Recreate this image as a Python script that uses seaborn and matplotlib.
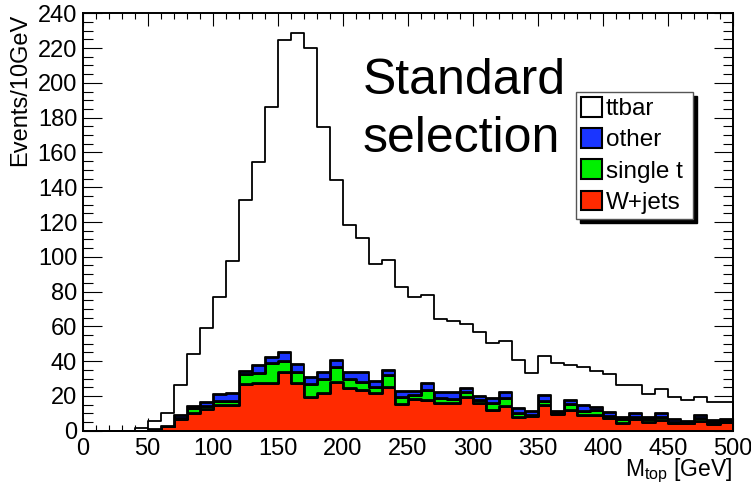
import numpy as np
import pandas as pd
import matplotlib
matplotlib.use("Agg")
import matplotlib.pyplot as plt
import seaborn as sns
from matplotlib.patches import Patch
from matplotlib.ticker import MultipleLocator

# ---- data: events per 10 GeV bin, bins 0-10, 10-20, ..., 490-500 ----
bin_low = list(range(0, 500, 10))

wjets = [0, 0, 0, 0, 0, 0.8, 2.7, 7.0, 10.4, 12.3,
         14.6, 14.6, 26.7, 27.2, 27.6, 33.9, 27.6, 19.6, 21.9, 28.2,
         24.4, 23.6, 21.5, 25.3, 15.2, 18.0, 17.7, 15.7, 15.7, 19.6,
         15.7, 11.9, 14.4, 8.0, 8.5, 14.8, 9.4, 11.9, 9.0, 9.0,
         7.1, 4.6, 6.5, 5.2, 6.2, 4.6, 4.2, 5.8, 3.8, 5.2]

single_t = [0, 0, 0, 0, 0, 0, 0.2, 0.5, 2.5, 1.9,
            2.5, 2.5, 5.7, 6.2, 11.1, 6.4, 6.2, 7.1, 7.7, 8.6,
            5.2, 4.6, 3.5, 6.7, 4.4, 2.5, 5.9, 2.9, 2.3, 2.8,
            2.0, 4.2, 4.2, 2.4, 0.5, 2.5, 0.8, 3.4, 2.5, 2.7,
            1.4, 2.0, 1.6, 1.3, 1.8, 0.4, 0.4, 1.3, 1.4, 1.0]

other = [0, 0, 0, 0, 0, 0, 0, 1.7, 1.3, 2.3,
         4.0, 4.8, 2.1, 4.6, 3.9, 4.8, 4.4, 4.4, 4.0, 3.9,
         4.3, 5.8, 3.6, 2.9, 3.2, 2.5, 3.8, 3.8, 4.4, 2.0,
         2.3, 2.5, 3.4, 2.5, 2.5, 3.2, 1.1, 2.2, 3.5, 1.9,
         2.4, 1.5, 2.3, 1.5, 2.0, 1.5, 1.2, 1.9, 1.0, 0.3]

ttbar = [0, 0, 0, 0, 1.5, 4.7, 7.5, 17.1, 29.7, 42.4,
         56.0, 75.7, 98.2, 116.3, 143.7, 179.6, 190.3, 188.8, 140.9, 103.5,
         84.4, 77.0, 67.3, 63.3, 60.0, 54.1, 50.8, 41.8, 40.9, 37.0,
         36.8, 32.0, 29.6, 27.8, 21.5, 22.6, 27.8, 20.5, 21.5, 20.7,
         21.7, 18.0, 15.6, 12.9, 14.2, 13.1, 11.9, 10.2, 10.5, 9.8]

components = ["ttbar", "other", "single t", "W+jets"]
series = {"ttbar": ttbar, "other": other, "single t": single_t, "W+jets": wjets}
colors = {"ttbar": "#ffffff", "other": "#1a35ff", "single t": "#00f000", "W+jets": "#ff2a00"}

x_ticks = list(range(0, 501, 50))
y_ticks = list(range(0, 241, 20))

# ---- long table ----
rows = []
for comp in components:
    for lo, v in zip(bin_low, series[comp]):
        rows.append({"mtop": lo + 5, "events": v, "comp": comp})
df = pd.DataFrame(rows)

sns.set_theme(style="ticks")
plt.rcParams["font.family"] = ["Liberation Sans", "DejaVu Sans"]
plt.rcParams["mathtext.default"] = "regular"
plt.rcParams["text.color"] = "black"
plt.rcParams["axes.labelcolor"] = "black"
plt.rcParams["xtick.color"] = "black"
plt.rcParams["ytick.color"] = "black"

fig = plt.figure(figsize=(7.51, 4.84), dpi=100)
ax = fig.add_axes([0.11012, 0.11012, 0.86551, 0.86240])

sns.histplot(data=df, x="mtop", weights="events", hue="comp", hue_order=components,
             binwidth=10, binrange=(0, 500), multiple="stack", element="step",
             fill=True, alpha=1, palette=colors, edgecolor="black", linewidth=2.0,
             legend=False, ax=ax)

# thinner outline for the ttbar layer
for coll in ax.collections:
    fc = coll.get_facecolor()
    if len(fc) and np.allclose(fc[0][:3], [1, 1, 1]):
        coll.set_linewidth(1.3)

ax.set_xlim(0, 500)
ax.set_ylim(0, 240)
ax.set_xticks(x_ticks)
ax.set_yticks(y_ticks)
ax.xaxis.set_minor_locator(MultipleLocator(10))
ax.yaxis.set_minor_locator(MultipleLocator(5))
ax.tick_params(which="both", direction="in", top=True, right=True, width=0.8,
               colors="black", labelcolor="black", labelsize=17)
ax.tick_params(axis="x", which="major", length=9.4, pad=5)
ax.tick_params(axis="x", which="minor", length=4.3)
ax.tick_params(axis="y", which="major", length=13.5, pad=4)
ax.tick_params(axis="y", which="minor", length=7)
for s in ax.spines.values():
    s.set_linewidth(1.4)
    s.set_color("black")
    s.set_visible(True)

ax.set_xlabel(r"$\mathregular{M_{top}}$ [GeV]", fontsize=16.5, loc="right", color="black")
ax.xaxis.set_label_coords(1.0, -0.061)
ax.set_ylabel("Events/10GeV", fontsize=17, loc="top", color="black")
ax.yaxis.set_label_coords(-0.079, 1.0)

ax.text(215.4, 193.5, "Standard", fontsize=36, ha="left", va="baseline", color="black")
ax.text(215.4, 160.4, "selection", fontsize=36, ha="left", va="baseline", color="black")

handles = [Patch(facecolor=colors[c], edgecolor="black", linewidth=1.5) for c in components]
leg = ax.legend(handles, components, loc="upper left",
                bbox_to_anchor=(575.7 / 751, 1 - 91.7 / 484, 117.6 / 751, 0.0),
                bbox_transform=fig.transFigure, mode="expand", borderaxespad=0,
                fontsize=17.5, handlelength=0.86, handleheight=0.86,
                handletextpad=0.15, labelspacing=0.33, borderpad=0.22,
                fancybox=False, framealpha=1, edgecolor="#555555",
                shadow={"color": "black", "alpha": 1, "ox": 3, "oy": -3})
leg.get_frame().set_linewidth(1.0)
for t in leg.get_texts():
    t.set_color("black")

fig.savefig("out.png", dpi=100)
